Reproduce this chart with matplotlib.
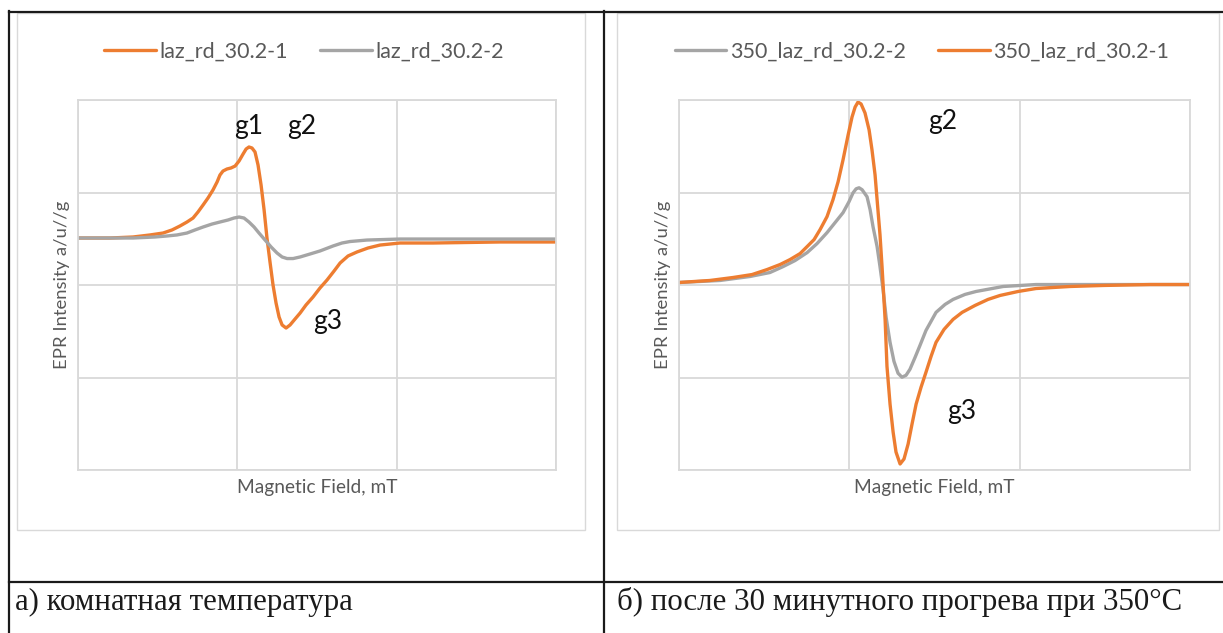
import matplotlib.pyplot as plt
from matplotlib.lines import Line2D
from matplotlib.patches import Rectangle

# values, in grid units (x: 0..3, y: -2..2)
rt_field_1 = [0.0, 0.201, 0.345, 0.452, 0.534, 0.590, 0.640, 0.684, 0.722, 0.753, 0.785,
              0.816, 0.847, 0.873, 0.891, 0.910, 0.935, 0.960, 0.986, 1.011, 1.036, 1.055,
              1.073, 1.092, 1.111, 1.130, 1.149, 1.168, 1.186, 1.205, 1.224, 1.243, 1.262,
              1.281, 1.306, 1.331, 1.362, 1.394, 1.431, 1.475, 1.519, 1.563, 1.607, 1.645,
              1.695, 1.751, 1.820, 1.896, 2.021, 2.229, 2.649, 3.0]
rt_signal_1 = [0.508, 0.508, 0.519, 0.541, 0.562, 0.595, 0.638, 0.681, 0.724, 0.789, 0.865,
               0.941, 1.027, 1.114, 1.189, 1.232, 1.254, 1.265, 1.286, 1.341, 1.416, 1.470,
               1.492, 1.481, 1.438, 1.297, 1.081, 0.811, 0.508, 0.249, 0.000, -0.195, -0.346,
               -0.432, -0.465, -0.432, -0.368, -0.303, -0.216, -0.130, -0.032, 0.054, 0.151,
               0.238, 0.314, 0.357, 0.400, 0.432, 0.454, 0.454, 0.465, 0.465]

rt_field_2 = [0.0, 0.345, 0.483, 0.559, 0.621, 0.684, 0.734, 0.785, 0.841, 0.891, 0.942,
              0.979, 1.011, 1.042, 1.073, 1.105, 1.136, 1.174, 1.212, 1.249, 1.281, 1.312,
              1.350, 1.394, 1.456, 1.519, 1.601, 1.657, 1.707, 1.814, 2.021, 3.0]
rt_signal_2 = [0.508, 0.508, 0.519, 0.530, 0.541, 0.562, 0.595, 0.627, 0.659, 0.681, 0.703,
               0.724, 0.735, 0.724, 0.681, 0.627, 0.562, 0.486, 0.411, 0.346, 0.303, 0.286,
               0.286, 0.303, 0.335, 0.368, 0.422, 0.454, 0.470, 0.486, 0.497, 0.497]

ht_field_1 = [0.0, 0.182, 0.317, 0.429, 0.517, 0.593, 0.652, 0.711, 0.752, 0.793, 0.828,
              0.869, 0.904, 0.934, 0.963, 0.993, 1.016, 1.034, 1.051, 1.069, 1.092, 1.116,
              1.133, 1.151, 1.163, 1.180, 1.192, 1.210, 1.221, 1.239, 1.257, 1.274, 1.298,
              1.321, 1.345, 1.368, 1.392, 1.421, 1.450, 1.480, 1.509, 1.556, 1.609, 1.662,
              1.738, 1.814, 1.885, 1.991, 2.096, 2.296, 2.490, 2.766, 3.0]
ht_signal_1 = [0.027, 0.049, 0.081, 0.113, 0.167, 0.221, 0.275, 0.340, 0.415, 0.491, 0.598,
               0.739, 0.922, 1.116, 1.353, 1.623, 1.817, 1.924, 1.978, 1.957, 1.860, 1.677,
               1.461, 1.191, 0.922, 0.544, 0.199, -0.372, -0.879, -1.288, -1.590, -1.806,
               -1.935, -1.881, -1.720, -1.504, -1.288, -1.105, -0.943, -0.771, -0.620, -0.480,
               -0.372, -0.296, -0.221, -0.156, -0.113, -0.070, -0.038, -0.016, -0.005, 0.005,
               0.005]

ht_field_2 = [0.0, 0.241, 0.417, 0.534, 0.611, 0.681, 0.752, 0.810, 0.869, 0.916, 0.963,
              0.998, 1.022, 1.040, 1.057, 1.075, 1.104, 1.122, 1.139, 1.163, 1.180, 1.198,
              1.216, 1.239, 1.262, 1.286, 1.309, 1.333, 1.356, 1.386, 1.415, 1.450, 1.509,
              1.562, 1.609, 1.679, 1.744, 1.903, 2.096, 2.472, 3.0]
ht_signal_2 = [0.027, 0.049, 0.092, 0.135, 0.199, 0.264, 0.350, 0.447, 0.566, 0.674, 0.782,
               0.900, 0.997, 1.040, 1.051, 1.030, 0.954, 0.814, 0.631, 0.415, 0.199, -0.049,
               -0.350, -0.620, -0.825, -0.954, -0.997, -0.976, -0.911, -0.782, -0.652, -0.491,
               -0.296, -0.210, -0.156, -0.102, -0.070, -0.016, 0.005, 0.005, 0.005]

rt_labels = ["laz_rd_30.2-1", "laz_rd_30.2-2"]
ht_labels = ["350_laz_rd_30.2-2", "350_laz_rd_30.2-1"]
captions = ["а) комнатная температура", "б) после 30 минутного прогрева при 350°C"]

ORANGE = "#ED7D31"
GRAY = "#A5A5A5"
GRID = "#D9D9D9"
TXT = "#595959"

W, H = 1223, 633
fig = plt.figure(figsize=(W / 100, H / 100), dpi=100)


def fx(px):
    return px / W


def fy(py):
    return 1 - py / H


def fig_line(x0, y0, x1, y1, color="#1a1a1a", lw=1.6):
    fig.add_artist(Line2D([fx(x0), fx(x1)], [fy(y0), fy(y1)], color=color, lw=lw,
                          transform=fig.transFigure))


# table borders
fig_line(9, 11.5, W, 11.5)
fig_line(9, 11, 9, H)
fig_line(604, 11, 604, H)
fig_line(9, 582, W, 582)

# chart frames
for x0, x1 in [(17, 585), (617, 1219)]:
    fig.add_artist(Rectangle((fx(x0), fy(530)), fx(x1 - x0), (530 - 13) / H,
                             transform=fig.transFigure, fill=False, ec=GRID, lw=1.0))


def make_axes(x0, x1):
    ax = fig.add_axes([fx(x0), fy(470), fx(x1 - x0), (470 - 100) / H])
    ax.set_xlim(0, 3)
    ax.set_ylim(-2, 2)
    ax.set_xticks([0, 1, 2, 3])
    ax.set_yticks([-2, -1, 0, 1, 2])
    ax.tick_params(length=0, labelbottom=False, labelleft=False)
    ax.grid(True, color=GRID, lw=1.3)
    for s in ax.spines.values():
        s.set_color(GRID)
        s.set_linewidth(1.3)
    ax.set_xlabel("Magnetic Field, mT", fontsize=13.8, color=TXT, family="Lato")
    ax.set_ylabel("EPR Intensity a/u//g", fontsize=13.3, color=TXT, family="Lato")
    ax.xaxis.set_label_coords(0.5, -18 / 370)
    ax.xaxis.label.set_va("center")
    ax.yaxis.set_label_coords(-16 / (x1 - x0), 0.5)
    ax.yaxis.label.set_va("center")
    return ax


def add_legend(ax, cx):
    leg = ax.legend(loc="center", bbox_to_anchor=(fx(cx), fy(52)),
                    bbox_transform=fig.transFigure, ncol=2, frameon=False,
                    prop={"family": "Lato", "size": 15.5}, handlelength=2.4,
                    handletextpad=0.17, columnspacing=1.5)
    for t in leg.get_texts():
        t.set_color(TXT)


line_kw = dict(lw=2.4, solid_joinstyle="round", solid_capstyle="round")

# a) room temperature
ax1 = make_axes(78, 556)
ax1.plot(rt_field_1, rt_signal_1, color=ORANGE, label=rt_labels[0], **line_kw)
ax1.plot(rt_field_2, rt_signal_2, color=GRAY, label=rt_labels[1], **line_kw)
add_legend(ax1, 304)
gkw = dict(fontsize=19, family="Lato", color="#111111", ha="center", va="center")
ax1.text(1.073, 1.711, "g1", **gkw)
ax1.text(1.406, 1.711, "g2", **gkw)
ax1.text(1.570, -0.400, "g3", **gkw)

# b) after 30 min at 350 C
ax2 = make_axes(679, 1190)
ax2.plot(ht_field_2, ht_signal_2, color=GRAY, label=ht_labels[0], **line_kw)
ax2.plot(ht_field_1, ht_signal_1, color=ORANGE, label=ht_labels[1], **line_kw)
add_legend(ax2, 922)
ax2.text(1.550, 1.763, "g2", **gkw)
ax2.text(1.662, -1.363, "g3", **gkw)

ckw = dict(fontsize=22.2, family="Liberation Serif", color="#1a1a1a", va="baseline", ha="left")
fig.text(fx(15), fy(610), captions[0], **ckw)
fig.text(fx(617), fy(610), captions[1], **ckw)

fig.savefig("out.png", dpi=100)
